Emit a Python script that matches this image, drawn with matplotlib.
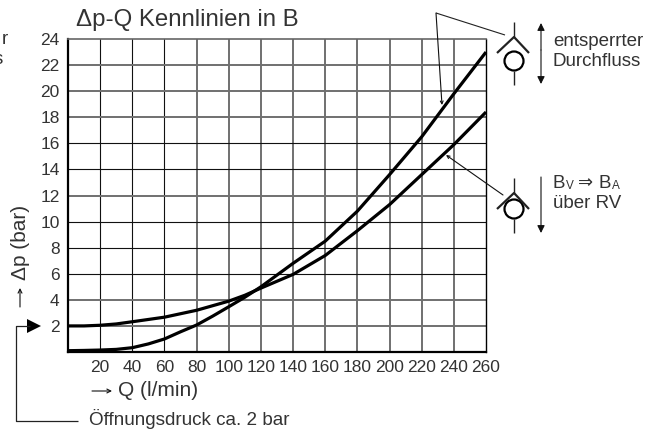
import matplotlib
matplotlib.use("Agg")
import matplotlib.pyplot as plt
from matplotlib.patches import Circle

plt.rcParams['font.family'] = ['Liberation Sans', 'DejaVu Sans']

W, H = 654, 432
TEXT = '#333333'

# values
q_open = [0, 10, 20, 30, 40, 50, 60, 70, 80, 90, 100, 110, 120, 140, 160, 180, 200, 220, 240, 260]
dp_open = [0.1, 0.12, 0.15, 0.2, 0.33, 0.62, 1.0, 1.55, 2.07, 2.75, 3.47, 4.2, 5.0, 6.8, 8.5, 10.8, 13.6, 16.5, 19.8, 23.0]
q_rv = [0, 10, 20, 30, 40, 60, 80, 100, 110, 120, 140, 160, 180, 200, 220, 240, 260]
dp_rv = [2.0, 2.0, 2.05, 2.15, 2.32, 2.67, 3.2, 3.9, 4.35, 4.9, 5.95, 7.4, 9.3, 11.3, 13.6, 15.9, 18.4]
x_ticks = [20, 40, 60, 80, 100, 120, 140, 160, 180, 200, 220, 240, 260]
y_ticks = [2, 4, 6, 8, 10, 12, 14, 16, 18, 20, 22, 24]
# the scan renders some grid lines grey, some black
x_grid_col = ['k', 'k', 'k', 'g', 'g', 'g', 'g', 'g', 'g', 'g', 'g', 'g']
y_grid_col = ['g', 'g', 'k', 'k', 'k', 'g', 'k', 'k', 'g', 'g', 'g', 'g']
grid_style = {'k': ('#111111', 0.8), 'g': ('#707070', 1.4)}

fig = plt.figure(figsize=(W / 100, H / 100), dpi=100)
ax = fig.add_axes([68 / W, 1 - 352 / H, (486 - 68) / W, (352 - 39) / H])
ax.set_xlim(0, 260)
ax.set_ylim(0, 24)

for v, c in zip(x_ticks[:-1], x_grid_col):
    ax.axvline(v, color=grid_style[c][0], lw=grid_style[c][1], zorder=1)
for v, c in zip(y_ticks[:-1], y_grid_col):
    ax.axhline(v, color=grid_style[c][0], lw=grid_style[c][1], zorder=1)
ax.plot(q_open, dp_open, color='black', lw=2.3, zorder=3, clip_on=False, solid_capstyle='butt')
ax.plot(q_rv, dp_rv, color='black', lw=2.3, zorder=3, clip_on=False, solid_capstyle='butt')

ax.set_xticks(x_ticks)
ax.set_yticks(y_ticks)
ax.tick_params(length=0, labelsize=12.5, labelcolor=TEXT)
ax.tick_params(axis='y', pad=6)
ax.tick_params(axis='x', pad=6)
ax.spines['left'].set_linewidth(1.6)
ax.spines['bottom'].set_linewidth(1.6)
ax.spines['top'].set_linewidth(1.2)
ax.spines['top'].set_color('#666666')
ax.spines['right'].set_linewidth(1.0)

# overlay in pixel coordinates for the notes and valve symbols
ov = fig.add_axes([0, 0, 1, 1], facecolor='none')
ov.set_xlim(0, W)
ov.set_ylim(H, 0)
ov.axis('off')


def note(x, y, s, size=13.5, **kw):
    ov.text(x, y, s, fontsize=size, color=TEXT, va='center', **kw)


def line(xs, ys, lw=0.8, color='#222222'):
    ov.plot(xs, ys, color=color, lw=lw, solid_capstyle='butt')


def valve(top, ball, low):
    # stem, chevron, ball, stem
    line([514, 514], [top, top + 15], lw=1)
    line([497, 514, 529], [top + 31, top + 15, top + 31], lw=1.6)
    ov.add_patch(Circle((514, ball), 9.5, fill=False, ec='black', lw=1.6))
    line([514, 514], [low, low + 14], lw=1)


def arrow(x0, y0, x1, y1, head=9, style='-|>'):
    ov.annotate('', xy=(x1, y1), xytext=(x0, y0),
                arrowprops=dict(arrowstyle=style, color='#111111', lw=0.8, mutation_scale=head, shrinkA=0, shrinkB=0))


note(76, 20, '\u0394p-Q Kennlinien in B', size=17.3)
note(2, 40, 'r')
note(-6, 60, 's')

arrow(92, 391, 112, 391, head=7, style='->')
note(118, 391, 'Q (l/min)', size=15)
ov.text(20, 242, '\u0394p (bar)', fontsize=15, color=TEXT, rotation=90, ha='center', va='center')
arrow(20, 307, 20, 288, head=7, style='->')

# opening pressure marker
line([78, 16, 16, 30], [421, 421, 326, 326], lw=0.9)
ov.fill([27, 41, 27], [319, 326, 333], color='black', lw=0)
note(89, 419, '\u00d6ffnungsdruck ca. 2 bar', size=13.6)

# leaders to the curves
line([505, 436], [35, 13])
arrow(436, 13, 442, 105, head=5, style='->')
arrow(503, 195, 446, 155, head=5, style='->')

valve(22, 61, 71)
valve(178, 209, 219)
arrow(541, 50, 541, 23, head=11)
arrow(541, 50, 541, 84, head=11)
arrow(541, 177, 541, 233, head=11)

note(553, 41, 'entsperrter')
note(553, 61, 'Durchfluss')
note(553, 184, 'B')
note(566, 186, 'V', size=8.5)
note(578, 184, '\u21d2', size=13)
note(599, 184, 'B')
note(612, 186, 'A', size=8.5)
note(553, 204, '\u00fcber RV')

fig.savefig('out.png', dpi=100)
